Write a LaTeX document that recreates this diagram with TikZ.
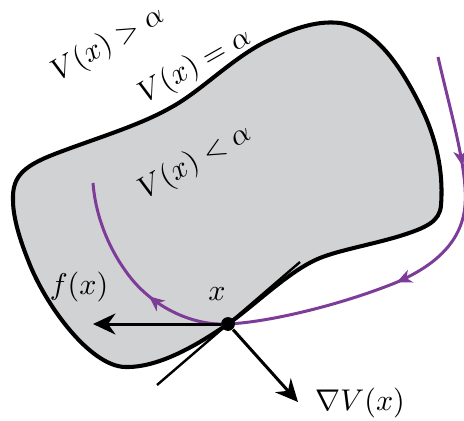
\documentclass[tikz,border=0pt]{standalone}
\usetikzlibrary{arrows.meta,decorations.markings}
\definecolor{blobgray}{RGB}{209,210,212}
\definecolor{traj}{RGB}{125,60,152}
\begin{document}
\begin{tikzpicture}[x=0.3333pt,y=-0.3333pt,
  blob/.style={draw=black,fill=blobgray,line width=1.35pt},
  trajline/.style={draw=traj,line width=1pt},
  vec/.style={draw=black,line width=1pt,-{Stealth[length=7.5pt,width=7pt,inset=2.5pt]}},
  tang/.style={draw=black,line width=0.8pt},
  lbl/.style={inner sep=0pt,font=\normalsize},
  dotnode/.style={circle,fill=black,inner sep=0pt,minimum size=4.6pt}]
\useasboundingbox (0,0) rectangle (464,420);
% region
\draw[blob] (13,200) .. controls (12,175) and (25,165) .. (60,152)
  .. controls (100,137) and (140,125) .. (170,108)
  .. controls (200,92) and (230,60) .. (265,42)
  .. controls (290,30) and (315,20) .. (340,23)
  .. controls (375,28) and (400,65) .. (420,105)
  .. controls (440,145) and (443,180) .. (441,205)
  .. controls (440,222) and (425,228) .. (400,236)
  .. controls (370,245) and (340,250) .. (320,258)
  .. controls (290,270) and (255,305) .. (228,324)
  .. controls (200,343) and (160,368) .. (125,367)
  .. controls (90,366) and (45,305) .. (28,260)
  .. controls (18,235) and (13,215) .. (13,200) -- cycle;
% tangent line
\coordinate (t1) at (157,385);
\coordinate (t2) at (300,262);
\draw[tang] (t1) -- (t2);
% trajectory
\path[trajline,postaction={decorate},decoration={markings,
   mark=at position 0.172 with {\arrow{Stealth[length=5pt,width=4.5pt,inset=1.5pt]}},
   mark=at position 0.40 with {\arrow{Stealth[length=5pt,width=4.5pt,inset=1.5pt]}},
   mark=at position 0.80 with {\arrow{Stealth[length=5pt,width=4.5pt,inset=1.5pt]}}}]
  (438,57) .. controls (450,110) and (468,170) .. (465,205)
  .. controls (462,245) and (430,268) .. (395,283)
  .. controls (340,305) and (270,322) .. (228,324)
  .. controls (190,326) and (150,305) .. (127,273)
  .. controls (105,243) and (95,210) .. (93,183);
% point x
\node[dotnode] (x) at (228,324) {};
\coordinate (fend) at (93,324);
\coordinate (gend) at (298,402);
\draw[vec] (x) -- (fend);
\draw[vec] (x) -- (gend);
% labels
\node[lbl] (lx) at (217,294) {$x$};
\node[lbl] (lf) at (79,287) {$f(x)$};
\node[lbl] (lg) at (360,403) {$\nabla V(x)$};
\node[lbl,rotate=29.5] (lgt) at (108,44) {$V(x)>\alpha$};
\node[lbl,rotate=29.5] (leq) at (195,66) {$V(x)=\alpha$};
\node[lbl,rotate=29.5] (llt) at (195,162) {$V(x)<\alpha$};
\end{tikzpicture}
\end{document}
